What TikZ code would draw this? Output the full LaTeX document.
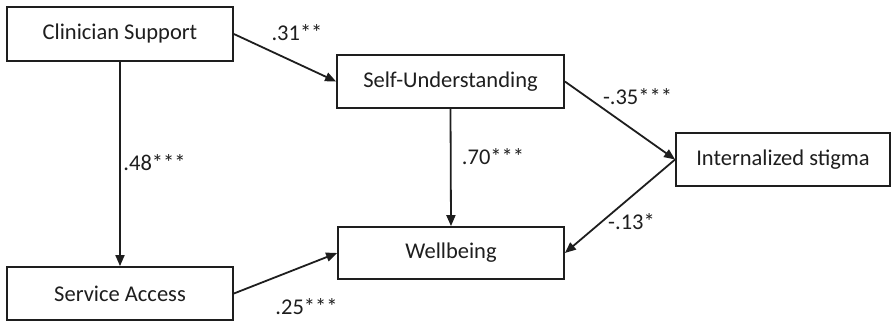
\documentclass[tikz,border=0pt]{standalone}
\usepackage{fontspec}
\setmainfont{Carlito}
\usetikzlibrary{arrows.meta}
\definecolor{ink}{HTML}{1E1E1E}
\begin{document}
\begin{tikzpicture}[x=1pt,y=-1pt,
  box/.style={draw=ink,line width=1.8pt,fill=white,inner sep=0pt,text=ink,
    font=\fontsize{22.5}{27}\selectfont},
  lbl/.style={text=ink,inner sep=0pt,font=\fontsize{22.5}{27}\selectfont},
  conn/.style={draw=ink,line width=1.8pt,-{Triangle[length=11pt,width=9pt]}}]
\useasboundingbox (0,0) rectangle (892,324);
\node[box,minimum width=226pt,minimum height=54pt] (cs) at (120,34) {Clinician Support};
\node[box,minimum width=227pt,minimum height=53pt] (su) at (450.5,81.5) {Self-Understanding};
\node[box,minimum width=214pt,minimum height=53pt] (is) at (783,159.5) {Internalized stigma};
\node[box,minimum width=226pt,minimum height=52pt] (wb) at (451,253) {Wellbeing};
\node[box,minimum width=226pt,minimum height=53pt] (sa) at (120,293.5) {Service Access};
\draw[conn] (cs.east) -- (su.west);
\draw[conn] (cs.south) -- (sa.north);
\draw[conn] (su.south) -- (wb.north);
\draw[conn] (su.east) -- (is.west);
\draw[conn] (is.west) -- (wb.east);
\draw[conn] (sa.east) -- (wb.west);
\node[lbl] (l31) at (297,33) {.31**};
\node[lbl] (l48) at (154.5,163) {.48***};
\node[lbl] (l70) at (493,157) {.70***};
\node[lbl] (l35) at (637.5,97) {-.35***};
\node[lbl] (l13) at (631.5,222) {-.13*};
\node[lbl] (l25) at (306.5,307) {.25***};
\end{tikzpicture}
\end{document}
